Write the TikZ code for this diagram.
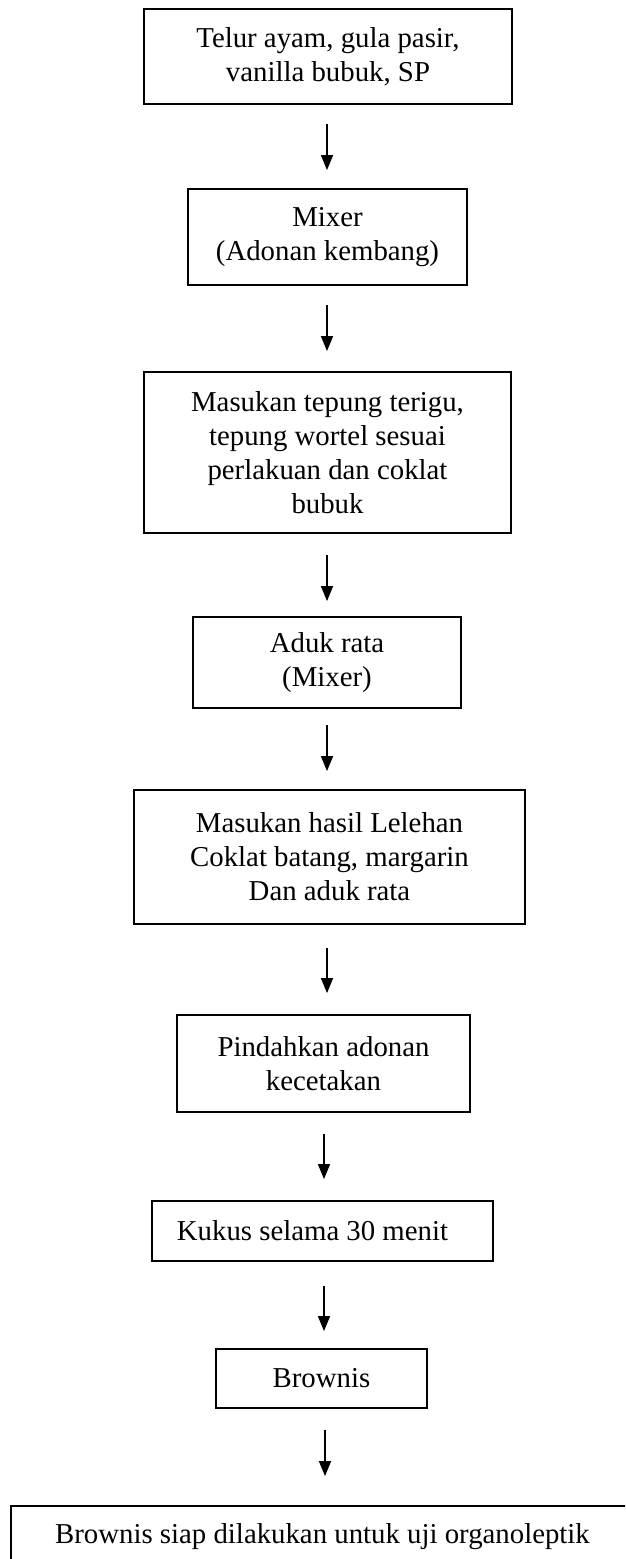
\documentclass[tikz,border=0pt]{standalone}
\usepackage{fontspec}
\setmainfont{Liberation Serif}
\usetikzlibrary{arrows.meta}
\begin{document}
\begin{tikzpicture}[x=1pt,y=-1pt,
  box/.style={draw, line width=1.8pt, inner sep=0pt, align=center,
    font=\fontsize{28.8pt}{34pt}\selectfont},
  arr/.style={line width=1.4pt, -{Triangle[length=15pt,width=12pt]}}]
\useasboundingbox (0,0) rectangle (625,1559);
\clip (0,0) rectangle (625,1559);
\coordinate (colA) at (327,0);
\coordinate (colB) at (324,0);
\coordinate (colC) at (325,0);

\node[box, minimum width=368pt, minimum height=95pt] (b1) at (328,56.5)
  {Telur ayam, gula pasir,\\vanilla bubuk, SP};
\node[box, minimum width=279pt, minimum height=96pt] (b2) at (327.5,237)
  {Mixer\\(Adonan kembang)};
\node[box, minimum width=367pt, minimum height=161pt] (b3) at (327.5,452.5)
  {Masukan tepung terigu,\\tepung wortel sesuai\\perlakuan dan coklat\\bubuk};
\node[box, minimum width=268pt, minimum height=91pt] (b4) at (327,662.5)
  {Aduk rata\\(Mixer)};
\node[box, minimum width=391pt, minimum height=134pt] (b5) at (329.5,857)
  {Masukan hasil Lelehan\\Coklat batang, margarin\\Dan aduk rata};
\node[box, minimum width=293pt, minimum height=97pt] (b6) at (323.5,1063.5)
  {Pindahkan adonan\\kecetakan};
\node[box, minimum width=341pt, minimum height=60pt] (b7) at (322.5,1231)
  {Kukus selama 30 menit\hspace*{20pt}};
\node[box, minimum width=211pt, minimum height=59pt] (b8) at (321.5,1378.5)
  {Brownis};
\node[box, minimum width=623pt, minimum height=62pt] (b9) at (322.5,1537)
  {Brownis siap dilakukan untuk uji organoleptik};

\draw[arr, shorten <=19pt, shorten >=18pt] (b1.south -| colA) -- (b2.north -| colA);
\draw[arr, shorten <=19pt, shorten >=20pt] (b2.south -| colA) -- (b3.north -| colA);
\draw[arr, shorten <=21pt, shorten >=15pt] (b3.south -| colA) -- (b4.north -| colA);
\draw[arr, shorten <=16pt, shorten >=18pt] (b4.south -| colA) -- (b5.north -| colA);
\draw[arr, shorten <=23pt, shorten >=21pt] (b5.south -| colA) -- (b6.north -| colA);
\draw[arr, shorten <=21pt, shorten >=21pt] (b6.south -| colB) -- (b7.north -| colB);
\draw[arr, shorten <=24pt, shorten >=17pt] (b7.south -| colB) -- (b8.north -| colB);
\draw[arr, shorten <=21pt, shorten >=29pt] (b8.south -| colC) -- (b9.north -| colC);
\end{tikzpicture}
\end{document}
